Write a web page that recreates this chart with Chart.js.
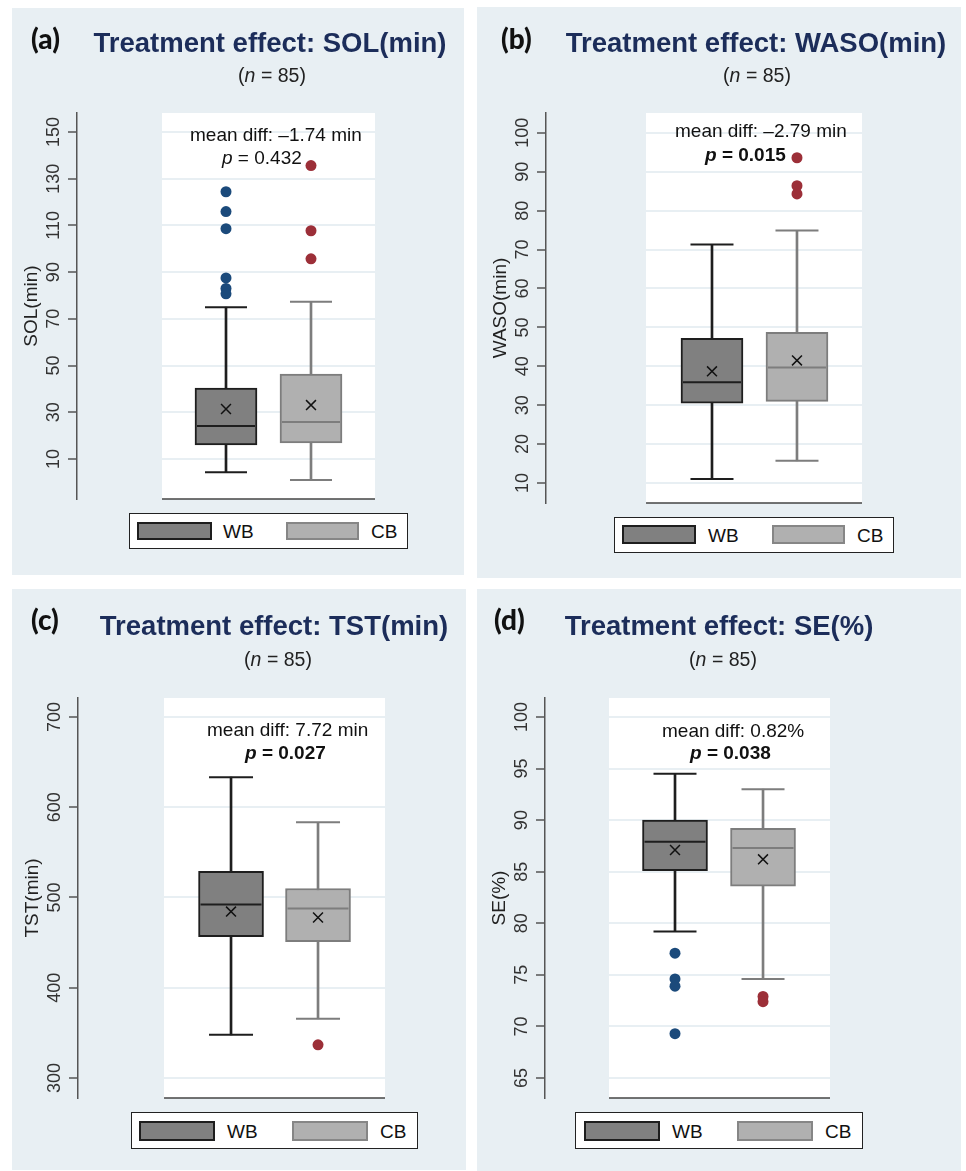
<!DOCTYPE html>
<html>
<head>
<meta charset="utf-8">
<script src="https://cdn.jsdelivr.net/npm/chart.js@4.4.1/dist/chart.umd.min.js"></script>
<style>
body { margin: 0; background: #fff; font-family: "Liberation Sans", Arial, sans-serif; }
#page { position: relative; width: 966px; height: 1171px; overflow: hidden; }
.panel { position: absolute; background: #e8eff3; }
.panel canvas { position: absolute; left: 0; top: 0; }
.t { position: absolute; line-height: 1; white-space: nowrap; }
.lab { font-family: Lato, sans-serif; font-weight: 900; font-size: 28px; color: #111; transform: translateY(-50%); }
.title { font-weight: bold; font-size: 27.5px; color: #1c2d5a; transform: translate(-50%, -50%); }
.n { font-size: 19.5px; color: #222; transform: translate(-50%, -50%); }
.ann { font-size: 19px; color: #111; transform: translateY(-50%); }
.legend { position: absolute; background: #fff; border: 1.5px solid #222; box-sizing: border-box; }
.sw { position: absolute; box-sizing: border-box; border: 2px solid; }
.sw.wb { background: #808080; border-color: #1e1e1e; }
.sw.cb { background: #b0b0b0; border-color: #868686; }
.lt { position: absolute; font-size: 19px; line-height: 1; color: #111; transform: translateY(-50%); }
</style>
</head>
<body>
<div id="page">
  <div class="panel" style="left:12px;top:8px;width:452px;height:567px"><canvas id="cA" width="452" height="567"></canvas></div>
  <div class="panel" style="left:477px;top:7px;width:484px;height:571px"><canvas id="cB" width="484" height="571"></canvas></div>
  <div class="panel" style="left:12px;top:589px;width:454px;height:581px"><canvas id="cC" width="454" height="581"></canvas></div>
  <div class="panel" style="left:477px;top:589px;width:484px;height:582px"><canvas id="cD" width="484" height="582"></canvas></div>

  <!-- (a) -->
  <div class="t lab" style="left:31px;top:38px">(a)</div>
  <div class="t title" style="left:270px;top:43px">Treatment effect: SOL(min)</div>
  <div class="t n" style="left:272px;top:76px">(<i>n</i> = 85)</div>
  <div class="t ann" style="left:190px;top:134px">mean diff: –1.74 min</div>
  <div class="t ann" style="left:222px;top:157px"><i>p</i> = 0.432</div>
  <div class="legend" style="left:129px;top:513px;width:279px;height:36px"></div>
  <div class="sw wb" style="left:137px;top:522px;width:75px;height:18px"></div>
  <div class="lt" style="left:223px;top:531px">WB</div>
  <div class="sw cb" style="left:286px;top:522px;width:73px;height:18px"></div>
  <div class="lt" style="left:371px;top:531px">CB</div>

  <!-- (b) -->
  <div class="t lab" style="left:501px;top:38px">(b)</div>
  <div class="t title" style="left:756px;top:43px">Treatment effect: WASO(min)</div>
  <div class="t n" style="left:757px;top:76px">(<i>n</i> = 85)</div>
  <div class="t ann" style="left:675px;top:130px">mean diff: –2.79 min</div>
  <div class="t ann" style="left:705px;top:154px;font-weight:bold"><i>p</i> = 0.015</div>
  <div class="legend" style="left:614px;top:517px;width:280px;height:36px"></div>
  <div class="sw wb" style="left:622px;top:525px;width:74px;height:19px"></div>
  <div class="lt" style="left:708px;top:535px">WB</div>
  <div class="sw cb" style="left:772px;top:525px;width:73px;height:19px"></div>
  <div class="lt" style="left:857px;top:535px">CB</div>

  <!-- (c) -->
  <div class="t lab" style="left:31px;top:619px">(c)</div>
  <div class="t title" style="left:274px;top:626px">Treatment effect: TST(min)</div>
  <div class="t n" style="left:278px;top:660px">(<i>n</i> = 85)</div>
  <div class="t ann" style="left:207px;top:729px">mean diff: 7.72 min</div>
  <div class="t ann" style="left:245px;top:752px;font-weight:bold"><i>p</i> = 0.027</div>
  <div class="legend" style="left:131px;top:1112px;width:287px;height:37px"></div>
  <div class="sw wb" style="left:139px;top:1121px;width:76px;height:20px"></div>
  <div class="lt" style="left:227px;top:1131px">WB</div>
  <div class="sw cb" style="left:292px;top:1121px;width:76px;height:20px"></div>
  <div class="lt" style="left:380px;top:1131px">CB</div>

  <!-- (d) -->
  <div class="t lab" style="left:494px;top:619px">(d)</div>
  <div class="t title" style="left:719px;top:626px">Treatment effect: SE(%)</div>
  <div class="t n" style="left:723px;top:660px">(<i>n</i> = 85)</div>
  <div class="t ann" style="left:662px;top:730px">mean diff: 0.82%</div>
  <div class="t ann" style="left:690px;top:752px;font-weight:bold"><i>p</i> = 0.038</div>
  <div class="legend" style="left:575px;top:1112px;width:288px;height:37px"></div>
  <div class="sw wb" style="left:584px;top:1121px;width:76px;height:20px"></div>
  <div class="lt" style="left:672px;top:1131px">WB</div>
  <div class="sw cb" style="left:737px;top:1121px;width:76px;height:20px"></div>
  <div class="lt" style="left:825px;top:1131px">CB</div>
</div>

<script>
const groups = ['WB', 'CB'];
const groupPos = [1, 2];

// each box: low whisker, Q1, median, Q3, high whisker
const solWB = [4.4, 16.0, 24.1, 40.4, 75.0];
const solCB = [1.0, 16.9, 25.9, 46.4, 77.3];
const solMean = [31.4, 33.1];
const solOutWB = [124.4, 115.9, 108.6, 87.5, 83.0, 80.7];
const solOutCB = [135.6, 107.7, 95.7];
const solTicks = [10, 30, 50, 70, 90, 110, 130, 150];

const wasoWB = [11.0, 30.5, 35.9, 47.2, 71.3];
const wasoCB = [15.7, 31.0, 39.7, 48.7, 74.9];
const wasoMean = [38.7, 41.5];
const wasoOutWB = [];
const wasoOutCB = [93.6, 86.4, 84.3];
const wasoTicks = [10, 20, 30, 40, 50, 60, 70, 80, 90, 100];

const tstWB = [347.8, 456.7, 492.2, 528.9, 633.3];
const tstCB = [365.6, 451.1, 487.8, 510.0, 583.3];
const tstMean = [484.4, 477.8];
const tstOutWB = [];
const tstOutCB = [336.7];
const tstTicks = [300, 400, 500, 600, 700];

const seWB = [79.2, 85.1, 87.9, 90.0, 94.5];
const seCB = [74.6, 83.6, 87.3, 89.2, 93.0];
const seMean = [87.1, 86.2];
const seOutWB = [77.1, 74.6, 73.9, 69.3];
const seOutCB = [72.9, 72.4];
const seTicks = [65, 70, 75, 80, 85, 90, 95, 100];

const fillCol = ['#808080', '#b0b0b0'];
const lineCol = ['#1e1e1e', '#7d7d7d'];
const dotCol = ['#1b4a7b', '#9c2f38'];
const bgCol = '#e8eff3';

Chart.defaults.font.family = '"Liberation Sans", Arial, sans-serif';
Chart.defaults.animation = false;

// white plot region (Stata style, offset from the y axis) and bottom line
const plotRegion = {
  id: 'plotRegion',
  beforeDraw(chart, args, opts) {
    const { ctx, chartArea, scales } = chart;
    const left = scales.x.getPixelForValue(opts.from);
    ctx.save();
    ctx.fillStyle = '#fff';
    ctx.fillRect(left, chartArea.top, chartArea.right - left, chartArea.bottom - chartArea.top);
    ctx.restore();
  },
  afterDraw(chart, args, opts) {
    const { ctx, chartArea, scales } = chart;
    const left = scales.x.getPixelForValue(opts.from);
    ctx.save();
    ctx.strokeStyle = '#444';
    ctx.lineWidth = 1.5;
    ctx.beginPath();
    ctx.moveTo(left, chartArea.bottom);
    ctx.lineTo(chartArea.right, chartArea.bottom);
    ctx.stroke();
    ctx.restore();
  }
};

// rotated tick labels and axis title
const axisText = {
  id: 'axisText',
  afterDraw(chart, args, opts) {
    const { ctx, chartArea, scales } = chart;
    ctx.save();
    ctx.textAlign = 'center';
    ctx.textBaseline = 'middle';
    ctx.fillStyle = '#333';
    ctx.font = '18px "Liberation Sans", Arial, sans-serif';
    opts.ticks.forEach(v => {
      ctx.save();
      ctx.translate(chartArea.left - 23, scales.y.getPixelForValue(v));
      ctx.rotate(-Math.PI / 2);
      ctx.fillText(String(v), 0, 0);
      ctx.restore();
    });
    ctx.fillStyle = '#222';
    ctx.font = '19px "Liberation Sans", Arial, sans-serif';
    ctx.translate(chartArea.left - 45, (chartArea.top + chartArea.bottom) / 2);
    ctx.rotate(-Math.PI / 2);
    ctx.fillText(opts.title, 0, 0);
    ctx.restore();
  }
};

function makeChart(id, wb, cb, means, outWB, outCB, ticks, lay) {
  const stats = [wb, cb];
  const datasets = [
    {
      type: 'bar', order: 6, grouped: false, barThickness: 2,
      data: groupPos.map((x, i) => ({ x: x, y: [stats[i][0], stats[i][4]] })),
      backgroundColor: lineCol
    },
    {
      type: 'bar', order: 5, grouped: false, barThickness: lay.box,
      data: groupPos.map((x, i) => ({ x: x, y: [stats[i][1], stats[i][3]] })),
      backgroundColor: fillCol, borderColor: lineCol, borderWidth: 2, borderSkipped: false
    },
    {
      type: 'scatter', order: 4,
      data: groupPos.flatMap((x, i) => [{ x: x, y: stats[i][0] }, { x: x, y: stats[i][4] }]),
      pointStyle: 'line', pointRadius: lay.cap / 2, pointBorderWidth: 2,
      pointBorderColor: [lineCol[0], lineCol[0], lineCol[1], lineCol[1]]
    },
    {
      type: 'scatter', order: 3,
      data: groupPos.map((x, i) => ({ x: x, y: stats[i][2] })),
      pointStyle: 'line', pointRadius: lay.box / 2 - 2, pointBorderWidth: 2,
      pointBorderColor: lineCol
    },
    {
      type: 'scatter', order: 2,
      data: groupPos.map((x, i) => ({ x: x, y: means[i] })),
      pointStyle: 'crossRot', pointRadius: 7, pointBorderWidth: 1.5,
      pointBorderColor: '#111'
    },
    {
      type: 'scatter', order: 1,
      data: outWB.map(v => ({ x: groupPos[0], y: v })),
      pointStyle: 'circle', pointRadius: 5.5, pointBorderWidth: 0,
      pointBackgroundColor: dotCol[0]
    },
    {
      type: 'scatter', order: 0,
      data: outCB.map(v => ({ x: groupPos[1], y: v })),
      pointStyle: 'circle', pointRadius: 5.5, pointBorderWidth: 0,
      pointBackgroundColor: dotCol[1]
    }
  ];

  return new Chart(document.getElementById(id), {
    type: 'bar',
    data: { labels: groups, datasets: datasets },
    options: {
      responsive: false,
      events: [],
      layout: { padding: lay.pad },
      plugins: {
        legend: { display: false },
        tooltip: { enabled: false },
        plotRegion: { from: lay.plotFrom },
        axisText: { ticks: ticks, title: lay.title }
      },
      scales: {
        x: { type: 'linear', display: false, offset: false, min: lay.xMin, max: lay.xMax },
        y: {
          type: 'linear', min: lay.yMin, max: lay.yMax, beginAtZero: false,
          afterBuildTicks: s => { s.ticks = ticks.map(v => ({ value: v })); },
          afterFit: s => { s.width = 10; },
          ticks: { display: false },
          grid: { color: bgCol, lineWidth: 2, tickLength: 9, tickColor: '#555', tickWidth: 1.5 },
          border: { display: true, color: '#555', width: 1.5 }
        }
      }
    },
    plugins: [plotRegion, axisText]
  });
}

makeChart('cA', solWB, solCB, solMean, solOutWB, solOutCB, solTicks, {
  title: 'SOL(min)', pad: { left: 55, top: 105, right: 89, bottom: 76 },
  xMin: -0.753, xMax: 2.753, plotFrom: 0.247, yMin: -7.1, yMax: 158.1, box: 62, cap: 42
});
makeChart('cB', wasoWB, wasoCB, wasoMean, wasoOutWB, wasoOutCB, wasoTicks, {
  title: 'WASO(min)', pad: { left: 59, top: 106, right: 99, bottom: 75 },
  xMin: -0.953, xMax: 2.765, plotFrom: 0.224, yMin: 4.86, yMax: 105.1, box: 62, cap: 43
});
makeChart('cC', tstWB, tstCB, tstMean, tstOutWB, tstOutCB, tstTicks, {
  title: 'TST(min)', pad: { left: 56, top: 109, right: 81, bottom: 72 },
  xMin: -0.759, xMax: 2.770, plotFrom: 0.230, yMin: 277.8, yMax: 721.05, box: 65, cap: 44
});
makeChart('cD', seWB, seCB, seMean, seOutWB, seOutCB, seTicks, {
  title: 'SE(%)', pad: { left: 58, top: 109, right: 131, bottom: 73 },
  xMin: -0.477, xMax: 2.761, plotFrom: 0.25, yMin: 63.06, yMax: 101.84, box: 65, cap: 43
});
</script>
</body>
</html>
